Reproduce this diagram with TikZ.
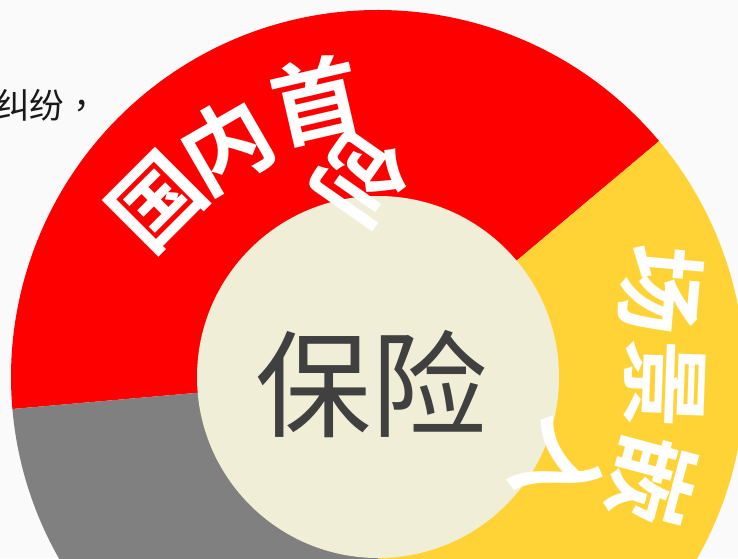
\documentclass[tikz,border=0pt]{standalone}
\usepackage{fontspec}
\newfontfamily\cjk{Noto Sans CJK SC}
\newfontfamily\cjkbold{Noto Sans CJK SC Bold}
\newfontfamily\cjknote{Noto Sans CJK TC}
\definecolor{ringred}{HTML}{FF0000}
\definecolor{ringgray}{HTML}{808080}
\definecolor{ringyellow}{HTML}{FFD336}
\definecolor{hubcream}{HTML}{F1EED8}
\definecolor{hubtext}{HTML}{404040}
\tikzset{
  ringchar/.style={text=white, inner sep=0pt, font=\fontsize{67pt}{67pt}\cjkbold},
}

\begin{document}
\begin{tikzpicture}[x=0.75pt,y=0.75pt]
		\useasboundingbox (0,0) rectangle (738,558);
		\clip (0,0) rectangle (738,558);
		\fill[white!98!black] (0,0) rectangle (738,558);
		\coordinate (ctr) at (378,181);
		% ring
		\fill[ringred] (ctr) -- ++(40:367) arc[start angle=40, end angle=185, radius=367] -- cycle;
		\fill[ringgray] (ctr) -- ++(185:367) arc[start angle=185, end angle=270, radius=367] -- cycle;
		\fill[ringyellow] (ctr) -- ++(-90:367) arc[start angle=-90, end angle=40, radius=367] -- cycle;
		\fill[hubcream] (ctr) circle (181);
		\node[text=hubtext, inner sep=0pt, font=\fontsize{87pt}{87pt}\cjk] (hub) at (371,174) {保险};
		% labels on the ring
		\node[ringchar, rotate=45] (guo) at (157,356) {国};
		\node[ringchar, rotate=30] (nei) at (226,413) {内};
		\node[ringchar, rotate=13] (shou) at (316,458) {首};
		\node[ringchar, rotate=-125] (chuang) at (362,380) {创};
		\node[ringchar, rotate=-95] (chang) at (661,268) {场};
		\node[ringchar, rotate=-92] (jing) at (665,174) {景};
		\node[ringchar, rotate=-105] (qian) at (653,78) {嵌};
		\node[ringchar, rotate=-120] (ru) at (561,90) {入};
		% cut text, top left
		\node[anchor=west, inner sep=0pt, text=black!90, font=\fontsize{26pt}{26pt}\cjknote] (note) at (-5,453) {纠纷，};
	\end{tikzpicture}
\end{document}
